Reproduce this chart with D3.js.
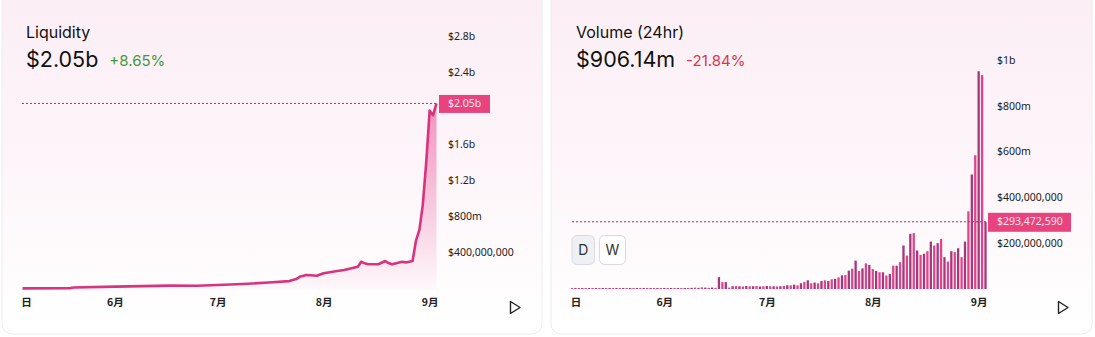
<!DOCTYPE html>
<html><head><meta charset="utf-8">
<script src="https://cdn.jsdelivr.net/npm/d3@7"></script>
<style>body{margin:0;background:#fff;} svg{display:block}</style>
</head><body><svg id="c" width="1095" height="337"></svg>
<script>
// ---------- DATA ----------
const lineDates = ["2024-05-05","2024-05-19","2024-05-20","2024-06-01","2024-06-17","2024-06-25","2024-07-01","2024-07-10","2024-07-16","2024-07-22","2024-07-24","2024-07-25","2024-07-27","2024-07-30","2024-08-01","2024-08-05","2024-08-07","2024-08-11","2024-08-12","2024-08-13","2024-08-14","2024-08-17","2024-08-19","2024-08-20","2024-08-21","2024-08-24","2024-08-25","2024-08-27","2024-08-28","2024-08-29","2024-08-30","2024-08-31","2024-09-01","2024-09-02","2024-09-03"];
const lineValues = [0.003,0.005,0.012,0.022,0.033,0.031,0.040,0.054,0.067,0.083,0.105,0.13,0.15,0.143,0.17,0.195,0.206,0.243,0.298,0.28,0.27,0.27,0.305,0.283,0.27,0.298,0.29,0.305,0.53,0.65,0.93,1.40,1.97,1.92,2.05]; // billions

const barStart = "2024-05-05", barEnd = "2024-09-03";
const barValues = [ // millions, one per day
  2,3,2,3,2,2,3,2,3,2,2,3,2,3,2,2,3,2,3,2,2,3,2,3,2,3,2,           // May 5-31
  3,2,3,3,2,3,4,3, 5,6,5,7,6,5,6,5, 52,30,30,6, 12,13,12,11,13,12,12,13,11,12, // June
  13,12,12,11,12,13,16, 16,19,16,25,31,38,25,28,25,35,38,35,42,44,51,60,61,80,89,124,79,90,112,105, // July
  87,79,73,73,59,66,102,102,117,190,146,241,244,168,149,154,165,207,190,200,219,139,120,165,161,178,139,207,339,500,584, // Aug
  951,934,293.47 // Sep
];

const leftTicks = [0.4,0.8,1.2,1.6,2.4,2.8];
const leftTickLabels = ["$400,000,000","$800m","$1.2b","$1.6b","$2.4b","$2.8b"];
const rightTicks = [200,400,600,800,1000];
const rightTickLabels = ["$200,000,000","$400,000,000","$600m","$800m","$1b"];
const xTickDates = ["2024-05-06","2024-06-01","2024-07-01","2024-08-01","2024-09-01"];
const xTickLabels = ["日","6月","7月","8月","9月"];

const leftTitle = "Liquidity", leftValue = "$2.05b", leftChange = "+8.65%", leftCurrent = 2.05, leftCurrentLabel = "$2.05b";
const rightTitle = "Volume (24hr)", rightValue = "$906.14m", rightChange = "-21.84%", rightCurrent = 293.47259, rightCurrentLabel = "$293,472,590";

// ---------- DRAW ----------
const parse = d3.utcParse("%Y-%m-%d");
const svg = d3.select("#c");
const defs = svg.append("defs");

const cg = defs.append("linearGradient").attr("id","cardg").attr("x1",0).attr("y1",0).attr("x2",0).attr("y2",1);
cg.append("stop").attr("offset","0").attr("stop-color","#fbeef5");
cg.append("stop").attr("offset","0.5").attr("stop-color","#fdf5f9");
cg.append("stop").attr("offset","1").attr("stop-color","#ffffff");

const ag = defs.append("linearGradient").attr("id","areag").attr("gradientUnits","userSpaceOnUse")
  .attr("x1",0).attr("y1",100).attr("x2",0).attr("y2",290);
ag.append("stop").attr("offset","0").attr("stop-color","#e8418c").attr("stop-opacity",0.55);
ag.append("stop").attr("offset","1").attr("stop-color","#e8418c").attr("stop-opacity",0.02);

// cards
svg.append("rect").attr("x",2).attr("y",-10).attr("width",540).attr("height",344).attr("rx",10)
  .attr("fill","url(#cardg)").attr("stroke","#ececef");
svg.append("rect").attr("x",551).attr("y",-10).attr("width",541).attr("height",344).attr("rx",10)
  .attr("fill","url(#cardg)").attr("stroke","#ececef");

function header(x, title, value, change, color){
  svg.append("text").attr("x",x).attr("y",37.5).attr("font-family","Inter").attr("font-size",16)
    .attr("fill","#111").text(title);
  const v = svg.append("text").attr("x",x).attr("y",67).attr("font-family","Inter").attr("font-size",21.5)
    .attr("fill","#111").text(value);
  const w = v.node().getComputedTextLength();
  svg.append("text").attr("x",x+w+11).attr("y",66).attr("font-family","Inter").attr("font-size",15)
    .attr("fill",color).text(change);
}
header(26, leftTitle, leftValue, leftChange, "#3f9a3c");
header(576, rightTitle, rightValue, rightChange, "#d8384a");

const tickFont = "Noto Sans";
// ----- LEFT -----
const xL = d3.scaleUtc().domain([parse(barStart), parse(barEnd)]).range([22.5, 436.5]);
const yL = d3.scaleLinear().domain([0, 2.8]).range([288.6, 35.7]);
const ld = lineDates.map((d,i)=>({d:parse(d), v:lineValues[i]}));

svg.append("path").datum(ld).attr("fill","url(#areag)")
  .attr("d", d3.area().x(p=>xL(p.d)).y0(yL(0)+1).y1(p=>yL(p.v)));
svg.append("path").datum(ld).attr("fill","none").attr("stroke","#d8337c").attr("stroke-width",2.6)
  .attr("stroke-linejoin","round")
  .attr("d", d3.line().x(p=>xL(p.d)).y(p=>yL(p.v)));

const gyl = svg.append("g").attr("transform","translate(448,0)")
  .call(d3.axisRight(yL).tickValues(leftTicks).tickSize(0).tickPadding(0).tickFormat((d,i)=>leftTickLabels[i]));
gyl.select(".domain").remove();
gyl.selectAll("text").attr("font-family",tickFont).attr("font-size",10.5).attr("fill","#222");

const gxl = svg.append("g").attr("transform","translate(0,298)")
  .call(d3.axisBottom(xL).tickValues(xTickDates.map(parse)).tickSize(0).tickPadding(0).tickFormat((d,i)=>xTickLabels[i]));
gxl.select(".domain").remove();
gxl.selectAll("text").attr("font-family","Noto Sans CJK JP").attr("font-weight","bold").attr("font-size",10.5).attr("fill","#222").attr("dy","0.75em");

// current value marker
svg.append("line").attr("x1",22).attr("x2",437).attr("y1",yL(leftCurrent)).attr("y2",yL(leftCurrent))
  .attr("stroke","#a8316f").attr("stroke-width",1).attr("stroke-dasharray","2,2");
svg.append("rect").attr("x",439).attr("y",yL(leftCurrent)-8.5).attr("width",51).attr("height",18).attr("fill","#e8437f");
svg.append("text").attr("x",448).attr("y",yL(leftCurrent)).attr("dy","0.35em").attr("font-family",tickFont)
  .attr("font-size",10.5).attr("fill","#fde3ee").text(leftCurrentLabel);

// ----- RIGHT -----
const xR = d3.scaleUtc().domain([parse(barStart), parse(barEnd)]).range([572, 985.5]);
const yR = d3.scaleLinear().domain([0, 1000]).range([289, 60]);
const days = d3.utcDay.range(parse(barStart), d3.utcDay.offset(parse(barEnd),1));
const bd = days.map((d,i)=>({d, v:barValues[i], i}));
const bw = 2.3;
svg.append("g").selectAll("rect").data(bd).join("rect")
  .attr("x", p=>xR(p.d)-bw/2).attr("width", bw)
  .attr("y", p=>Math.min(yR(p.v), yR(0)-1)).attr("height", p=>Math.max(yR(0)-yR(p.v),1))
  .attr("fill", p=> p.i%2 ? "#a3387a" : "#e0448c");

const gyr = svg.append("g").attr("transform","translate(997,0)")
  .call(d3.axisRight(yR).tickValues(rightTicks).tickSize(0).tickPadding(0).tickFormat((d,i)=>rightTickLabels[i]));
gyr.select(".domain").remove();
gyr.selectAll("text").attr("font-family",tickFont).attr("font-size",10.5).attr("fill","#222");

const gxr = svg.append("g").attr("transform","translate(0,298)")
  .call(d3.axisBottom(xR).tickValues(xTickDates.map(parse)).tickSize(0).tickPadding(0).tickFormat((d,i)=>xTickLabels[i]));
gxr.select(".domain").remove();
gxr.selectAll("text").attr("font-family","Noto Sans CJK JP").attr("font-weight","bold").attr("font-size",10.5).attr("fill","#222").attr("dy","0.75em");

svg.append("line").attr("x1",572).attr("x2",988).attr("y1",yR(rightCurrent)).attr("y2",yR(rightCurrent))
  .attr("stroke","#a8316f").attr("stroke-width",1).attr("stroke-dasharray","2,2");
svg.append("rect").attr("x",988).attr("y",yR(rightCurrent)-9).attr("width",83).attr("height",19).attr("fill","#e8437f");
svg.append("text").attr("x",997).attr("y",yR(rightCurrent)).attr("dy","0.35em").attr("font-family",tickFont)
  .attr("font-size",10.5).attr("fill","#fde3ee").text(rightCurrentLabel);

// D / W buttons
[["D",572,"#eef0f4"],["W",599.5,"#ffffff"]].forEach(([t,x,f])=>{
  svg.append("rect").attr("x",x).attr("y",235.5).attr("width",t==="D"?22.5:26).attr("height",29).attr("rx",5)
    .attr("fill",f).attr("stroke","#d9dbe1");
  svg.append("text").attr("x",x+(t==="D"?11.25:13)).attr("y",250).attr("dy","0.36em").attr("text-anchor","middle")
    .attr("font-family","Inter").attr("font-size",14).attr("fill","#333").text(t);
});

// play buttons
[515, 1063].forEach(cx=>{
  svg.append("path").attr("d",`M${cx-4.5},${301.5} L${cx+5},${307.5} L${cx-4.5},${313.5} Z`)
    .attr("fill","none").attr("stroke","#222").attr("stroke-width",1.4).attr("stroke-linejoin","round");
});
</script></body></html>
